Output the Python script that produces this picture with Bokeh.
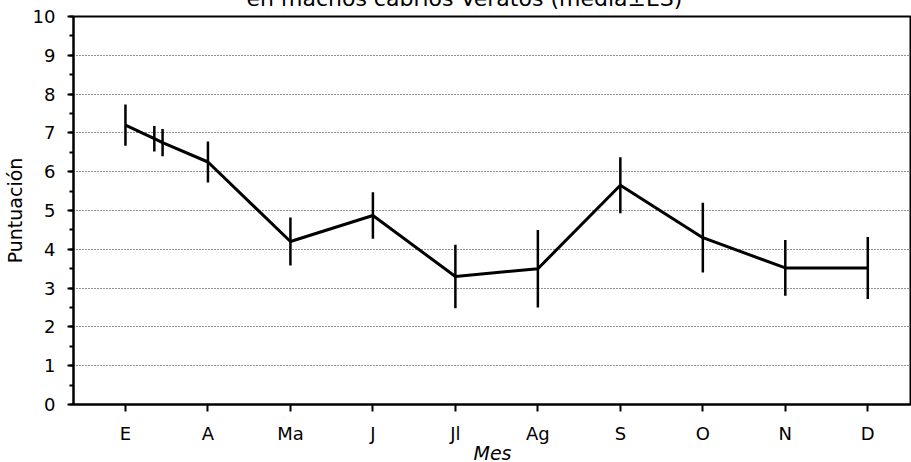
from bokeh.plotting import figure
from bokeh.models import FixedTicker, SingleIntervalTicker, Range1d, ColumnDataSource
from bokeh.embed import file_html
from bokeh.resources import INLINE

# ---- data ----
months = ["E", "A", "Ma", "J", "Jl", "Ag", "S", "O", "N", "D"]
month_pos = [0, 1, 2, 3, 4, 5, 6, 7, 8, 9]
mean = [7.2, 6.25, 4.2, 4.87, 3.3, 3.5, 5.65, 4.3, 3.52, 3.52]
se = [0.53, 0.53, 0.62, 0.6, 0.82, 1.0, 0.72, 0.9, 0.72, 0.8]
# two extra points plotted between E and A in the original figure
extra_pos = [0.35, 0.45]
extra_mean = [6.85, 6.75]
extra_se = [0.33, 0.35]

title_text = "en machos cabríos Veratos (media±ES)"
x_label = "Mes"
y_label = "Puntuación"
y_ticks = [0, 1, 2, 3, 4, 5, 6, 7, 8, 9, 10]

# ---- build sources ----
pts = sorted(zip(month_pos + extra_pos, mean + extra_mean, se + extra_se))
src = ColumnDataSource(dict(
    x=[p[0] for p in pts],
    y=[p[1] for p in pts],
    lo=[p[1] - p[2] for p in pts],
    hi=[p[1] + p[2] for p in pts],
))

FONT = "DejaVu Sans"

# canvas taller than the window; shifted up so that the (cut) title sits at the top edge
p = figure(width=911, height=504, output_backend="svg", toolbar_location=None,
           x_range=Range1d(-0.63, 9.53), y_range=Range1d(0, 10),
           min_border_left=72, min_border_right=0, min_border_top=44,
           min_border_bottom=72)
p.styles = {"margin-top": "-28px", "margin-bottom": "-14px",
            "margin-left": "0px", "margin-right": "0px"}

p.title.text = title_text
p.title.align = "left"
p.title.offset = 173
p.title.standoff = 12
p.title.text_font = FONT
p.title.text_font_size = "22px"
p.title.text_font_style = "normal"
p.title.text_color = "black"

p.background_fill_color = "white"
p.border_fill_color = "white"
p.outline_line_color = "black"
p.outline_line_width = 2

# grid
p.xgrid.visible = False
p.ygrid.ticker = FixedTicker(ticks=y_ticks[1:-1])
p.ygrid.grid_line_color = "#222222"
p.ygrid.grid_line_dash = "1 2"
p.ygrid.grid_line_width = 1

# x axis
p.xaxis.ticker = FixedTicker(ticks=month_pos)
p.xaxis.major_label_overrides = {i: m for i, m in zip(month_pos, months)}
p.xaxis.minor_tick_line_color = None
p.xaxis.major_tick_in = 0
p.xaxis.major_tick_out = 7
p.xaxis.major_tick_line_width = 2
p.xaxis.axis_line_width = 2
p.xaxis.major_label_standoff = 11
p.xaxis.axis_label = x_label
p.xaxis.axis_label_standoff = -5

# y axis
p.yaxis.ticker = SingleIntervalTicker(interval=1, num_minor_ticks=2)
p.yaxis.major_tick_in = 0
p.yaxis.major_tick_out = 6
p.yaxis.minor_tick_in = 0
p.yaxis.minor_tick_out = 4
p.yaxis.major_tick_line_width = 2
p.yaxis.minor_tick_line_width = 2
p.yaxis.axis_line_width = 2
p.yaxis.major_label_standoff = 12
p.yaxis.axis_label = y_label
p.yaxis.axis_label_standoff = 4

for ax in (p.xaxis[0], p.yaxis[0]):
    ax.axis_line_color = "black"
    ax.major_tick_line_color = "black"
    ax.major_label_text_font = FONT
    ax.major_label_text_font_size = "18px"
    ax.major_label_text_color = "black"
    ax.axis_label_text_font = FONT
    ax.axis_label_text_font_size = "19px"
    ax.axis_label_text_font_style = "normal"
    ax.axis_label_text_color = "black"
p.xaxis.axis_label_text_font_style = "italic"

# data
p.line("x", "y", source=src, line_color="black", line_width=3)
p.segment(x0="x", y0="lo", x1="x", y1="hi", source=src, line_color="black", line_width=2.5)

open("out.html", "w").write(file_html(p, INLINE))
